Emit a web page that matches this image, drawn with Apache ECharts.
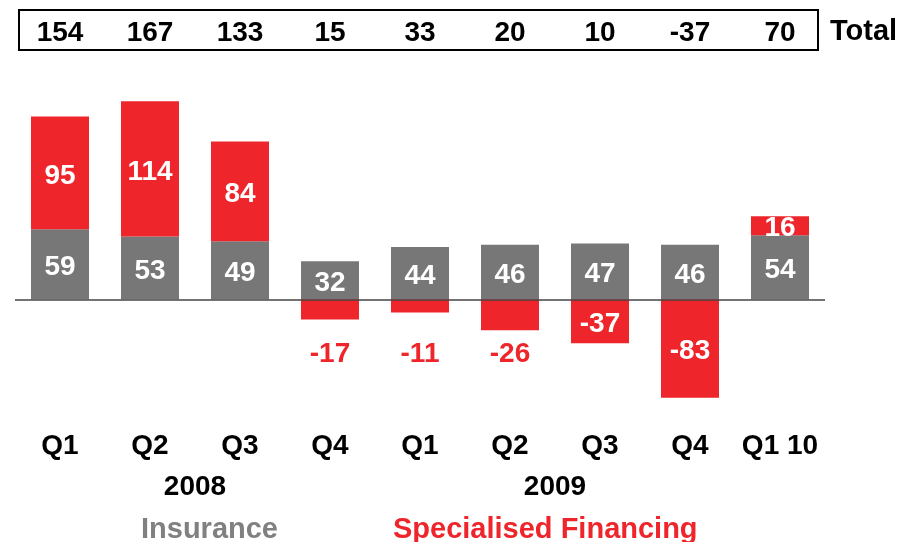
<!DOCTYPE html>
<html>
<head>
<meta charset="utf-8">
<script src="https://cdn.jsdelivr.net/npm/echarts@6/dist/echarts.min.js"></script>
<style>
  html, body { margin: 0; padding: 0; background: #fff; }
  #chart { width: 917px; height: 542px; }
</style>
</head>
<body>
<div id="chart"></div>
<script>
const quarters = ['Q1', 'Q2', 'Q3', 'Q4', 'Q1', 'Q2', 'Q3', 'Q4', 'Q1 10'];
const insurance = [59, 53, 49, 32, 44, 46, 47, 46, 54];
const financing = [95, 114, 84, -17, -11, -26, -37, -83, 16];
const totals = [154, 167, 133, 15, 33, 20, 10, -37, 70];
const years = [
  { name: '2008', from: 0, to: 3 },
  { name: '2009', from: 4, to: 7 }
];

const FONT = '"Liberation Sans", Arial, sans-serif';
const GREY = '#777777';
const RED = '#EE262C';

// small negative bars get their label below, on one common line
const outsideLevel = -44;
const outsideLabels = financing.map((v, i) => (v < 0 && v > -30 ? [i, outsideLevel, v] : null))
  .filter(d => d);

const chart = echarts.init(document.getElementById('chart'));

chart.setOption({
  animation: false,
  textStyle: { fontFamily: FONT },
  grid: { left: 15, right: 92, top: 62, bottom: 124 },
  xAxis: [
    {
      type: 'category',
      data: quarters,
      axisLine: { show: false },
      axisTick: { show: false },
      axisLabel: { interval: 0, margin: 14, color: '#000', fontSize: 28, fontWeight: 'bold', fontFamily: FONT }
    },
    {
      type: 'category',
      position: 'top',
      data: totals.map(String),
      axisLine: { show: false },
      axisTick: { show: false },
      axisLabel: { interval: 0, margin: 15, color: '#000', fontSize: 28, fontWeight: 'bold', fontFamily: FONT }
    }
  ],
  yAxis: {
    type: 'value',
    min: -100,
    max: 200,
    show: false,
    splitLine: { show: false }
  },
  legend: {
    left: 131,
    top: 510,
    itemGap: 110,
    itemWidth: 0,
    itemHeight: 0,
    icon: 'rect',
    selectedMode: false,
    data: [
      { name: 'Insurance', textStyle: { color: '#808080' } },
      { name: 'Specialised Financing', textStyle: { color: RED } }
    ],
    textStyle: { fontSize: 29, fontWeight: 'bold', fontFamily: FONT }
  },
  series: [
    {
      name: 'Insurance',
      type: 'bar',
      stack: 'q',
      barWidth: 58,
      data: insurance,
      itemStyle: { color: GREY },
      label: {
        show: true, position: 'inside', color: '#fff', offset: [0, 3],
        fontSize: 28, fontWeight: 'bold', fontFamily: FONT
      },
      markLine: {
        silent: true,
        symbol: 'none',
        label: { show: false },
        lineStyle: { color: '#444', width: 1.5, type: 'solid' },
        data: [{ yAxis: 0 }],
        z: 10
      }
    },
    {
      name: 'Specialised Financing',
      type: 'bar',
      stack: 'q',
      barWidth: 58,
      data: financing,
      itemStyle: { color: RED },
      label: {
        show: true, position: 'inside', color: '#fff', offset: [0, 3],
        fontSize: 28, fontWeight: 'bold', fontFamily: FONT,
        formatter: p => (p.value < 0 && p.value > -30 ? '' : String(p.value))
      }
    },
    {
      name: 'outside',
      type: 'scatter',
      symbolSize: 0,
      data: outsideLabels,
      silent: true,
      itemStyle: { opacity: 1 },
      label: {
        show: true, position: 'inside', color: RED, offset: [0, 3],
        fontSize: 28, fontWeight: 'bold', fontFamily: FONT,
        formatter: p => String(p.value[2])
      }
    }
  ]
});

// box around the totals row, "Total" tag and year labels under the quarters
const graphics = [
  {
    type: 'rect',
    shape: { x: 19, y: 10, width: 799, height: 40 },
    style: { fill: 'none', stroke: '#000', lineWidth: 2 }
  },
  {
    type: 'text',
    x: 830, y: 32,
    style: { text: 'Total', fill: '#000', font: 'bold 29px ' + FONT, textVerticalAlign: 'middle' }
  }
];
years.forEach(y => {
  const a = chart.convertToPixel({ xAxisIndex: 0 }, y.from);
  const b = chart.convertToPixel({ xAxisIndex: 0 }, y.to);
  graphics.push({
    type: 'text',
    x: (a + b) / 2, y: 487,
    style: {
      text: y.name, fill: '#000', font: 'bold 28px ' + FONT,
      textAlign: 'center', textVerticalAlign: 'middle'
    }
  });
});
chart.setOption({ graphic: graphics });
</script>
</body>
</html>
